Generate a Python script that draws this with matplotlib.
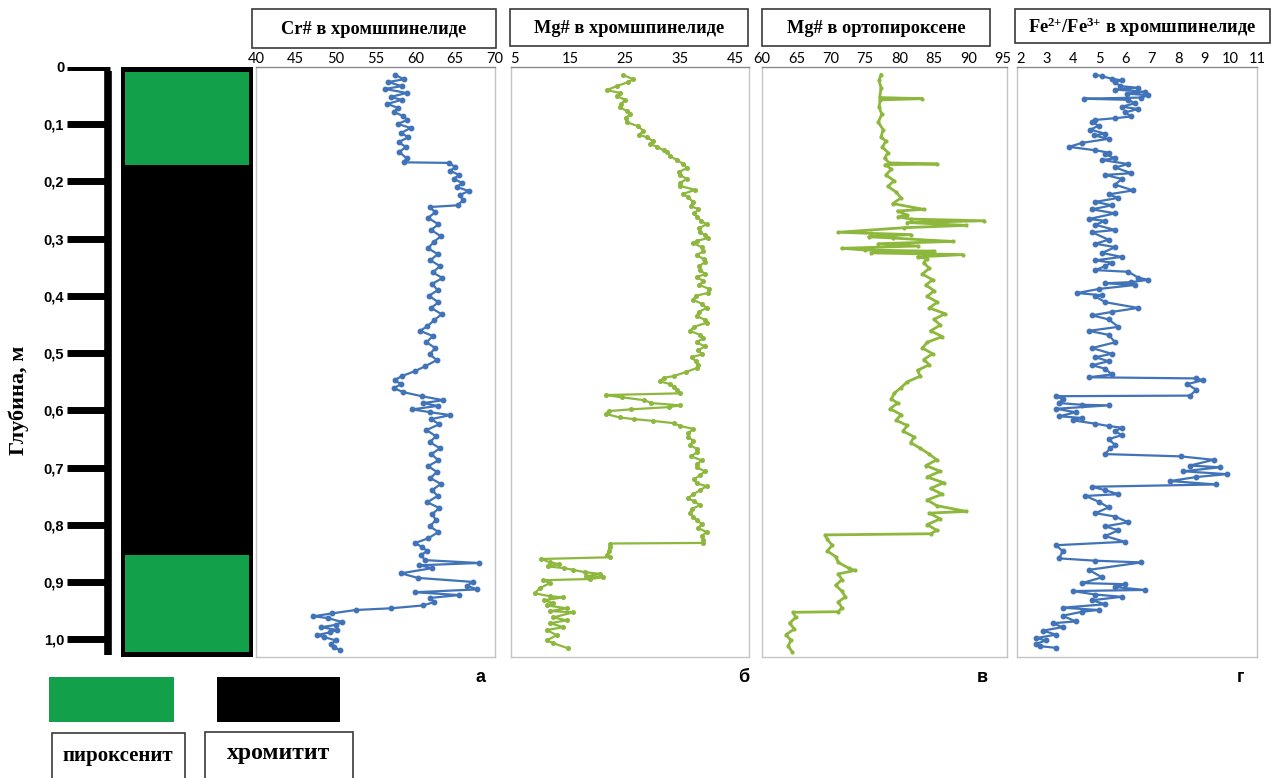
import matplotlib
matplotlib.use("Agg")
import matplotlib.pyplot as plt
from matplotlib.patches import Rectangle

# --- data (depth in m) ---
depth_ticks = [0, 0.1, 0.2, 0.3, 0.4, 0.5, 0.6, 0.7, 0.8, 0.9, 1.0]
depth_labels = ["0", "0,1", "0,2", "0,3", "0,4", "0,5", "0,6", "0,7", "0,8", "0,9", "1,0"]

lith_top = [0.010, 0.173, 0.853]
lith_base = [0.173, 0.853, 1.023]
lith_rock = ["пироксенит", "хромитит", "пироксенит"]

cr_depth = [0.016, 0.023, 0.028, 0.035, 0.040, 0.047, 0.054, 0.059, 0.066, 0.073, 0.080, 0.087,
            0.094, 0.101, 0.108, 0.117, 0.124, 0.133, 0.141, 0.150, 0.161, 0.168, 0.169, 0.176,
            0.183, 0.190, 0.197, 0.204, 0.211, 0.218, 0.225, 0.234, 0.243, 0.246, 0.255, 0.265,
            0.276, 0.286, 0.297, 0.307, 0.318, 0.328, 0.339, 0.349, 0.360, 0.370, 0.380, 0.391,
            0.401, 0.412, 0.422, 0.433, 0.443, 0.454, 0.462, 0.471, 0.482, 0.492, 0.503, 0.513,
            0.524, 0.532, 0.541, 0.548, 0.555, 0.562, 0.569, 0.576, 0.583, 0.588, 0.593, 0.599,
            0.604, 0.609, 0.616, 0.625, 0.635, 0.646, 0.656, 0.667, 0.677, 0.688, 0.698, 0.708,
            0.719, 0.729, 0.740, 0.750, 0.761, 0.771, 0.782, 0.792, 0.803, 0.813, 0.824, 0.832,
            0.839, 0.846, 0.853, 0.862, 0.867, 0.871, 0.876, 0.885, 0.893, 0.900, 0.907, 0.913,
            0.918, 0.923, 0.928, 0.935, 0.941, 0.946, 0.949, 0.955, 0.960, 0.963, 0.970, 0.975,
            0.979, 0.984, 0.988, 0.993, 0.996, 1.002, 1.009, 1.014, 1.019]
cr_val = [57.5, 58.6, 56.6, 58.3, 56.2, 58.9, 56.9, 58.3, 56.5, 57.8, 57.3, 58.4,
          59.0, 57.8, 59.4, 58.2, 59.1, 57.9, 58.8, 58.0, 58.9, 58.6, 64.2, 65.0,
          64.4, 65.5, 64.8, 65.9, 65.2, 66.7, 65.6, 66.0, 65.3, 61.8, 62.5, 61.6,
          62.9, 62.0, 63.2, 62.3, 61.6, 62.8, 61.9, 63.1, 62.2, 63.4, 62.1, 62.8,
          61.7, 62.9, 62.0, 63.3, 62.4, 61.5, 60.6, 62.2, 61.4, 62.5, 61.8, 62.7,
          61.2, 60.0, 58.3, 57.4, 58.2, 57.3, 58.5, 60.8, 63.5, 61.0, 62.8, 59.6,
          61.9, 64.4, 62.0, 63.0, 61.4, 62.6, 61.8, 63.1, 62.0, 62.9, 61.6, 62.7,
          61.9, 63.2, 62.1, 62.8, 61.5, 63.0, 62.1, 62.6, 61.8, 62.9, 61.6, 60.0,
          60.8, 61.5, 60.7, 61.2, 68.0, 60.5, 62.1, 58.2, 60.3, 67.2, 66.5, 67.8,
          60.0, 65.5, 61.8, 62.4, 61.0, 57.0, 52.5, 49.5, 47.2, 49.0, 50.8, 50.0,
          48.2, 50.2, 49.3, 47.6, 48.5, 50.0, 49.4, 49.8, 50.5]

mgsp_depth = [0.016, 0.023, 0.028, 0.035, 0.042, 0.047, 0.052, 0.059, 0.066, 0.072, 0.079, 0.084,
              0.091, 0.098, 0.105, 0.113, 0.120, 0.124, 0.131, 0.136, 0.141, 0.147, 0.150, 0.157,
              0.164, 0.171, 0.178, 0.185, 0.190, 0.197, 0.204, 0.209, 0.216, 0.223, 0.229, 0.237,
              0.244, 0.250, 0.257, 0.263, 0.270, 0.276, 0.283, 0.290, 0.295, 0.300, 0.305, 0.309,
              0.316, 0.323, 0.330, 0.337, 0.342, 0.349, 0.356, 0.363, 0.368, 0.375, 0.382, 0.389,
              0.396, 0.401, 0.408, 0.415, 0.422, 0.429, 0.436, 0.443, 0.448, 0.455, 0.462, 0.469,
              0.475, 0.482, 0.489, 0.496, 0.503, 0.508, 0.515, 0.522, 0.527, 0.534, 0.541, 0.544,
              0.550, 0.555, 0.560, 0.565, 0.571, 0.574, 0.578, 0.583, 0.588, 0.592, 0.595, 0.599,
              0.602, 0.607, 0.613, 0.616, 0.619, 0.623, 0.628, 0.633, 0.640, 0.647, 0.654, 0.661,
              0.668, 0.674, 0.681, 0.688, 0.695, 0.700, 0.707, 0.714, 0.721, 0.728, 0.733, 0.740,
              0.747, 0.754, 0.759, 0.766, 0.773, 0.780, 0.787, 0.792, 0.799, 0.806, 0.813, 0.820,
              0.827, 0.832, 0.833, 0.839, 0.846, 0.853, 0.857, 0.860, 0.866, 0.869, 0.873, 0.876,
              0.879, 0.883, 0.886, 0.890, 0.892, 0.895, 0.897, 0.902, 0.911, 0.920, 0.925, 0.927,
              0.932, 0.937, 0.941, 0.946, 0.951, 0.953, 0.962, 0.967, 0.972, 0.979, 0.984, 0.993,
              1.002, 1.007, 1.016]
mgsp_val = [24.7, 26.5, 25.6, 23.5, 21.7, 24.1, 23.5, 25.0, 24.3, 24.1, 25.4, 25.9,
            25.1, 25.3, 27.4, 28.3, 27.6, 28.9, 30.1, 29.6, 30.8, 32.0, 32.6, 33.2,
            34.4, 35.6, 36.2, 34.8, 35.0, 36.2, 35.0, 34.9, 37.7, 35.6, 36.4, 37.4,
            37.0, 38.3, 37.6, 38.0, 38.8, 39.8, 38.4, 38.6, 39.6, 40.1, 38.0, 37.4,
            38.9, 39.2, 38.0, 39.3, 39.5, 38.5, 38.6, 39.6, 38.0, 39.2, 38.5, 40.3,
            40.0, 37.8, 37.4, 39.0, 39.8, 38.4, 38.0, 39.6, 39.8, 37.5, 36.8, 38.6,
            39.2, 38.0, 39.5, 38.3, 39.0, 37.1, 37.8, 38.2, 38.0, 36.0, 33.8, 32.0,
            31.3, 33.2, 33.8, 34.4, 35.0, 21.5, 24.5, 28.5, 29.8, 35.0, 33.0, 26.0,
            22.0, 21.5, 24.0, 26.6, 30.0, 33.8, 35.0, 37.4, 36.5, 36.5, 37.4, 36.8,
            38.0, 38.0, 37.0, 38.9, 38.0, 38.0, 39.5, 38.6, 37.5, 38.0, 39.8, 38.6,
            37.4, 36.4, 37.5, 38.6, 37.1, 36.8, 37.4, 38.0, 38.9, 38.3, 39.8, 38.9,
            39.2, 39.2, 22.3, 22.3, 22.0, 21.8, 22.3, 9.8, 11.4, 13.0, 11.0, 14.0,
            15.6, 17.7, 20.5, 18.0, 21.0, 18.6, 10.1, 11.4, 9.5, 8.6, 11.4, 13.8,
            10.2, 12.0, 10.8, 14.4, 11.4, 15.6, 12.0, 14.4, 11.4, 13.8, 10.8, 12.6,
            10.8, 12.0, 14.7]

opx_depth = [0.015, 0.025, 0.038, 0.055, 0.057, 0.059, 0.071, 0.084, 0.098, 0.111, 0.124, 0.131,
             0.141, 0.151, 0.161, 0.169, 0.171, 0.172, 0.180, 0.190, 0.200, 0.210, 0.220, 0.230,
             0.240, 0.250, 0.253, 0.260, 0.263, 0.267, 0.270, 0.273, 0.278, 0.282, 0.290, 0.292,
             0.294, 0.298, 0.300, 0.303, 0.306, 0.310, 0.314, 0.318, 0.321, 0.323, 0.326, 0.329,
             0.333, 0.336, 0.343, 0.353, 0.363, 0.373, 0.382, 0.392, 0.402, 0.412, 0.422, 0.432,
             0.442, 0.452, 0.462, 0.472, 0.482, 0.492, 0.502, 0.512, 0.521, 0.531, 0.541, 0.551,
             0.561, 0.571, 0.581, 0.588, 0.598, 0.608, 0.618, 0.627, 0.637, 0.647, 0.657, 0.667,
             0.677, 0.687, 0.697, 0.707, 0.717, 0.727, 0.737, 0.747, 0.757, 0.767, 0.777, 0.780,
             0.790, 0.800, 0.810, 0.816, 0.818, 0.826, 0.836, 0.846, 0.856, 0.866, 0.876, 0.880,
             0.886, 0.896, 0.906, 0.916, 0.926, 0.935, 0.945, 0.952, 0.953, 0.962, 0.972, 0.982,
             0.992, 1.002, 1.012, 1.022]
opx_val = [77.3, 77.0, 77.3, 77.1, 83.3, 77.2, 77.0, 77.4, 76.9, 77.6, 77.3, 78.0,
           77.5, 78.3, 77.8, 78.5, 85.4, 77.9, 78.8, 78.0, 79.2, 78.3, 79.5, 80.2,
           79.0, 83.5, 79.7, 81.1, 79.8, 81.6, 92.3, 81.1, 89.7, 80.7, 71.1, 75.9,
           81.6, 75.5, 79.0, 83.0, 87.8, 76.9, 82.6, 71.6, 75.0, 85.0, 75.9, 89.2,
           82.6, 84.0, 83.5, 84.3, 83.3, 84.8, 83.8, 85.0, 84.0, 85.5, 84.3, 86.6,
           85.0, 85.9, 84.5, 86.2, 84.0, 83.3, 84.8, 83.5, 84.3, 82.6, 83.0, 81.1,
           80.2, 79.2, 78.8, 79.7, 78.6, 80.2, 79.5, 81.1, 80.5, 82.1, 81.6, 83.0,
           84.3, 85.4, 83.8, 85.9, 84.0, 86.4, 84.5, 86.2, 84.0, 85.4, 89.7, 84.3,
           85.9, 84.0, 85.4, 84.5, 69.2, 69.5, 70.2, 69.5, 70.7, 71.1, 72.6, 73.5,
           71.1, 71.6, 70.7, 71.6, 72.1, 71.1, 71.6, 71.1, 64.5, 64.9, 64.0, 64.7,
           63.5, 64.2, 63.8, 64.4]

fe_depth = [0.015, 0.018, 0.022, 0.025, 0.028, 0.035, 0.038, 0.041, 0.045, 0.048, 0.051, 0.055,
            0.057, 0.059, 0.065, 0.071, 0.075, 0.081, 0.088, 0.091, 0.094, 0.098, 0.104, 0.111,
            0.118, 0.121, 0.127, 0.134, 0.141, 0.147, 0.151, 0.154, 0.161, 0.164, 0.171, 0.177,
            0.187, 0.190, 0.197, 0.207, 0.217, 0.224, 0.230, 0.237, 0.243, 0.250, 0.257, 0.267,
            0.270, 0.277, 0.286, 0.290, 0.303, 0.310, 0.316, 0.326, 0.333, 0.339, 0.343, 0.349,
            0.356, 0.359, 0.369, 0.373, 0.377, 0.379, 0.382, 0.389, 0.396, 0.400, 0.402, 0.412,
            0.422, 0.429, 0.435, 0.442, 0.455, 0.462, 0.469, 0.482, 0.492, 0.502, 0.508, 0.515,
            0.522, 0.528, 0.538, 0.543, 0.545, 0.548, 0.555, 0.565, 0.575, 0.576, 0.581, 0.588,
            0.591, 0.592, 0.598, 0.604, 0.611, 0.614, 0.618, 0.624, 0.628, 0.631, 0.637, 0.644,
            0.651, 0.661, 0.667, 0.677, 0.681, 0.687, 0.697, 0.700, 0.707, 0.712, 0.717, 0.724,
            0.730, 0.734, 0.740, 0.747, 0.750, 0.760, 0.770, 0.780, 0.786, 0.796, 0.803, 0.810,
            0.820, 0.830, 0.836, 0.846, 0.859, 0.863, 0.866, 0.879, 0.892, 0.902, 0.904, 0.909,
            0.914, 0.916, 0.922, 0.926, 0.932, 0.939, 0.945, 0.949, 0.952, 0.959, 0.969, 0.972,
            0.979, 0.985, 0.992, 0.998, 1.002, 1.008, 1.012, 1.015]
fe_val = [4.86, 5.11, 5.48, 5.86, 5.61, 5.80, 6.48, 5.61, 6.73, 6.05, 6.86, 6.61,
          4.42, 6.11, 6.36, 5.86, 6.48, 5.98, 6.23, 5.61, 4.86, 4.73, 4.98, 4.67,
          5.23, 4.80, 5.36, 4.36, 3.86, 4.86, 5.36, 5.23, 5.61, 5.11, 6.11, 5.61,
          6.23, 5.23, 5.86, 5.61, 6.29, 5.36, 5.73, 4.86, 5.48, 4.73, 5.61, 4.61,
          5.23, 4.86, 5.61, 4.73, 5.36, 4.86, 5.61, 5.11, 5.86, 4.86, 5.48, 5.23,
          4.86, 6.11, 6.48, 6.86, 6.23, 5.23, 6.36, 4.98, 4.17, 5.11, 4.86, 5.23,
          6.48, 5.48, 4.73, 5.36, 5.73, 4.61, 5.36, 5.61, 4.73, 5.48, 4.86, 5.36,
          4.73, 5.23, 5.48, 4.61, 8.70, 8.95, 8.35, 8.70, 8.45, 3.36, 3.61, 3.49,
          4.36, 5.36, 3.36, 4.11, 3.49, 4.36, 3.99, 4.86, 5.36, 5.86, 5.61, 5.86,
          5.36, 5.61, 5.42, 5.23, 8.10, 9.35, 8.45, 9.60, 8.20, 9.85, 8.70, 7.70,
          9.45, 4.73, 5.23, 5.73, 4.48, 4.98, 5.36, 4.86, 5.61, 6.11, 5.23, 5.73,
          5.23, 5.98, 3.36, 3.61, 3.49, 4.86, 6.61, 4.61, 5.11, 4.36, 5.98, 5.61,
          6.73, 3.99, 4.86, 5.86, 4.73, 5.23, 3.61, 4.98, 4.36, 3.61, 4.11, 3.24,
          3.61, 2.86, 3.36, 2.61, 2.99, 2.61, 2.74, 3.36]

W, H = 1271, 778
DEPTH_LIM = (1.031, 0.0017)
BLUE = "#4173b8"
OLIVE = "#8db83d"
ROCK_GREEN = "#12a04b"

plt.rcParams["mathtext.fontset"] = "custom"
plt.rcParams["mathtext.rm"] = "Liberation Serif:bold"
plt.rcParams["mathtext.default"] = "rm"

fig = plt.figure(figsize=(W / 100, H / 100), dpi=100)
fig.patch.set_facecolor("white")


def px_axes(x0, y0, x1, y1):
    return fig.add_axes([x0 / W, 1 - y1 / H, (x1 - x0) / W, (y1 - y0) / H])


def px_box(x0, y0, x1, y1, **kw):
    fig.add_artist(Rectangle((x0 / W, 1 - y1 / H), (x1 - x0) / W, (y1 - y0) / H,
                             transform=fig.transFigure, **kw))


def px_text(x, y, s, **kw):
    fig.text(x / W, 1 - y / H, s, ha="center", va="center", **kw)


serif_bold = dict(family="Liberation Serif", weight="bold")

# depth scale
dax = px_axes(67, 67, 112, 657)
dax.set_xlim(0, 1)
dax.set_ylim(DEPTH_LIM)
dax.vlines(0.9, 0.007, 1.027, color="black", lw=5.5)
dax.hlines(depth_ticks, 0, 0.95, color="black", lw=5)
dax.set_yticks(depth_ticks, depth_labels)
dax.tick_params(axis="y", length=0, pad=2, labelsize=10.5)
for lab in dax.get_yticklabels():
    lab.set_fontweight("bold")
    lab.set_family("Liberation Sans")
dax.set_xticks([])
for s in dax.spines.values():
    s.set_visible(False)
dax.patch.set_alpha(0)

px_text(19, 400, "Глубина, м", rotation=90, fontsize=16, **serif_bold)

# lithology column
col = px_axes(121, 67, 253, 657)
col.set_facecolor("black")
col.set_xlim(0, 1)
col.set_ylim(DEPTH_LIM)
for top, base, rock in zip(lith_top, lith_base, lith_rock):
    c = ROCK_GREEN if rock == "пироксенит" else "black"
    col.axhspan(top, base, xmin=0.03, xmax=0.97, color=c, lw=0)
col.set_xticks([])
col.set_yticks([])
for s in col.spines.values():
    s.set_visible(False)

# data panels
panels = [
    dict(box=(256, 495), xlim=(40, 70), ticks=[40, 45, 50, 55, 60, 65, 70],
         d=cr_depth, v=cr_val, color=BLUE, ms=3.2, lw=1.6,
         title="Cr# в хромшпинелиде", hbox=(252, 9, 496, 48), letter="а", lx=481),
    dict(box=(511, 749), xlim=(4.3, 47.5), ticks=[5, 15, 25, 35, 45],
         d=mgsp_depth, v=mgsp_val, color=OLIVE, ms=2.6, lw=1.6,
         title="Mg# в хромшпинелиде", hbox=(510, 9, 748, 46), letter="б", lx=744),
    dict(box=(762, 1007), xlim=(60.5, 95.6), ticks=[60, 65, 70, 75, 80, 85, 90, 95],
         d=opx_depth, v=opx_val, color=OLIVE, ms=2.0, lw=2.0,
         title="Mg# в ортопироксене", hbox=(762, 9, 990, 46), letter="в", lx=982),
    dict(box=(1017, 1257), xlim=(1.88, 11), ticks=list(range(2, 12)),
         d=fe_depth, v=fe_val, color=BLUE, ms=3.2, lw=1.6,
         title=r"Fe$^{2{+}}$/Fe$^{3{+}}$ в хромшпинелиде", hbox=(1015, 9, 1270, 43),
         letter="г", lx=1240),
]

for p in panels:
    ax = px_axes(p["box"][0], 67, p["box"][1], 657)
    ax.plot(p["v"], p["d"], color=p["color"], lw=p["lw"], marker="o", ms=p["ms"])
    ax.set_xlim(p["xlim"])
    ax.set_ylim(DEPTH_LIM)
    ax.xaxis.tick_top()
    ax.set_xticks(p["ticks"])
    ax.tick_params(axis="x", length=0, pad=1, labelsize=10.5)
    for lab in ax.get_xticklabels():
        lab.set_family("Lato")
    ax.set_yticks([])
    for s in ax.spines.values():
        s.set_color("#c4c4c4")
        s.set_linewidth(1.0)
    ax.spines["top"].set_color("#8a8a8a")

    x0, y0, x1, y1 = p["hbox"]
    px_box(x0, y0, x1, y1, fill=False, ec="#3a3a3a", lw=1.2)
    px_text((x0 + x1) / 2, (y0 + y1) / 2 + 1, p["title"], fontsize=13.2, **serif_bold)
    px_text(p["lx"], 677, p["letter"], fontsize=13, family="Liberation Sans", weight="bold")

# legend
px_box(49, 677, 174, 722, color=ROCK_GREEN, lw=0)
px_box(217, 677, 340, 722, color="black", lw=0)
px_box(52, 733, 185, 781, fill=False, ec="#3a3a3a", lw=1.2)
px_box(205, 732, 353, 781, fill=False, ec="#3a3a3a", lw=1.2)
px_text(118, 756, "пироксенит", fontsize=15, **serif_bold)
px_text(279, 753, "хромитит", fontsize=17, **serif_bold)

fig.savefig("out.png", dpi=100, facecolor="white")
